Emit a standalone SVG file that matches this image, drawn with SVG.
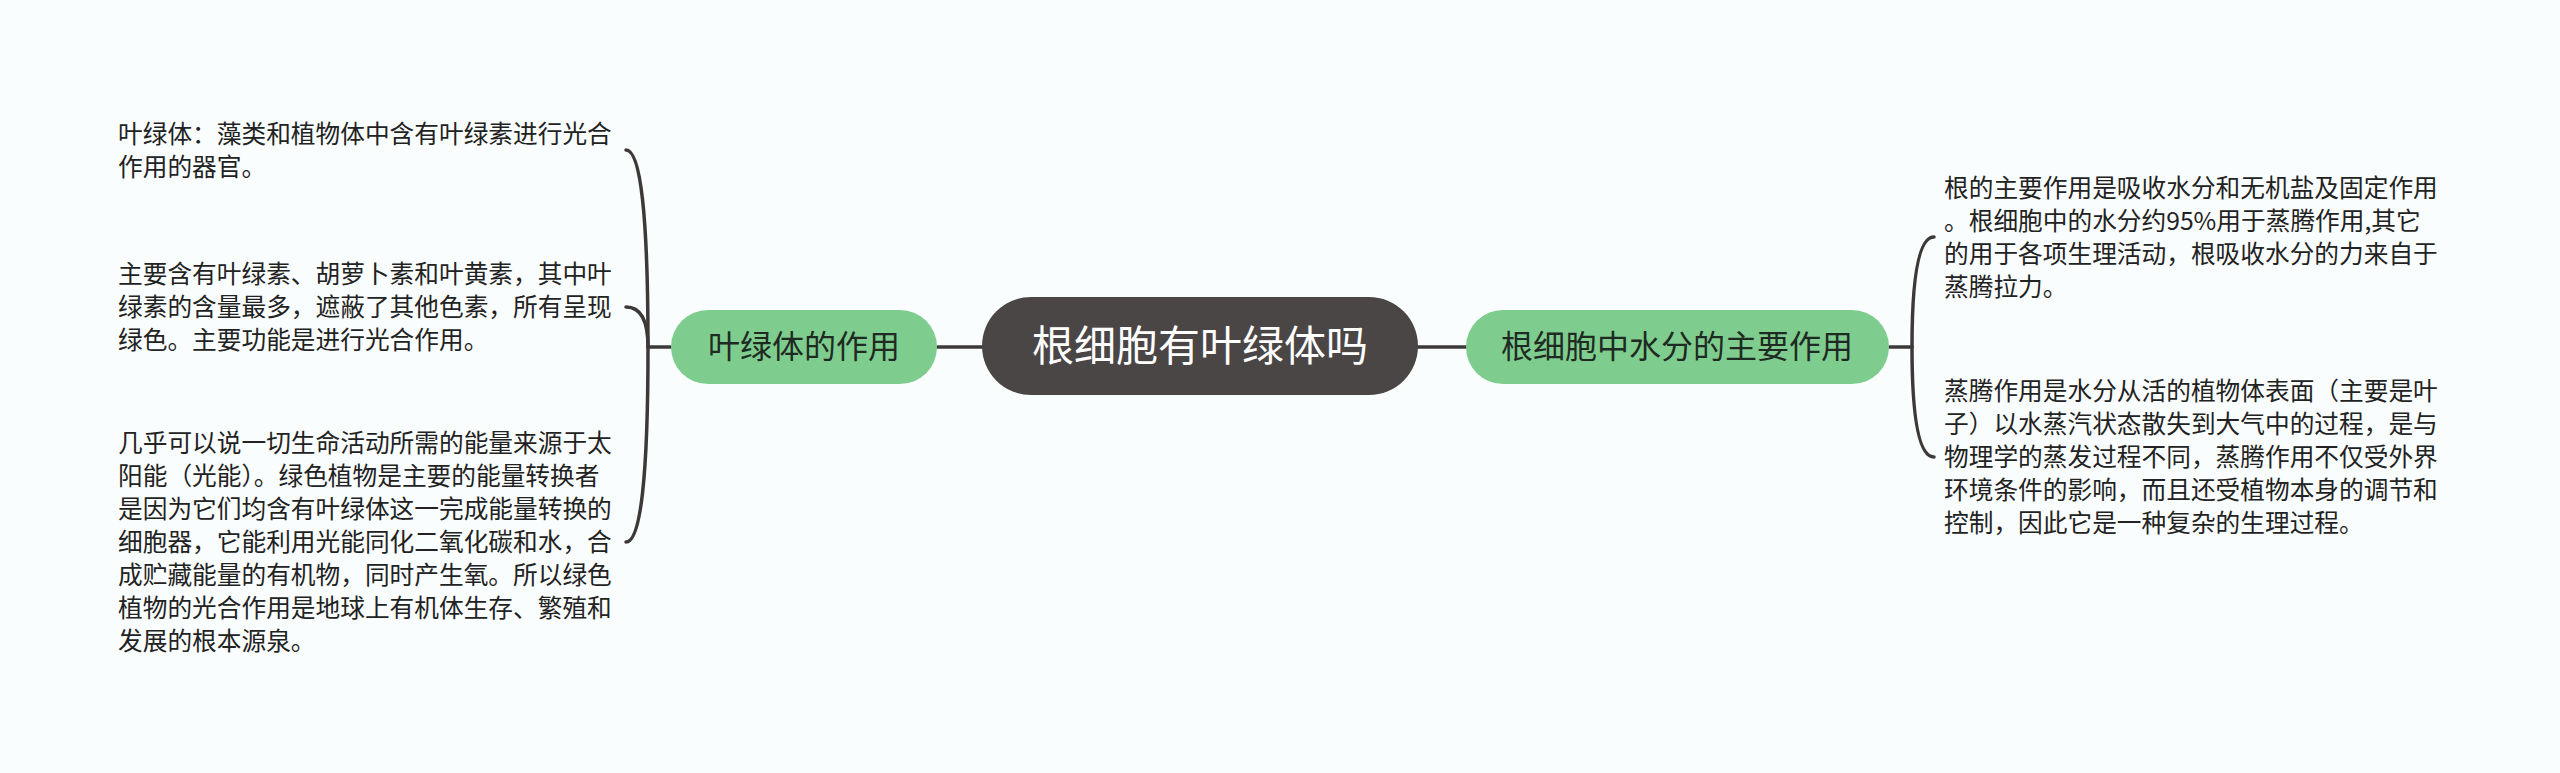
<svg xmlns="http://www.w3.org/2000/svg" width="2560" height="773" viewBox="0 0 2560 773">
<style>
.bg{fill:#fafdfd}
.conn{fill:none;stroke:#3d3939;stroke-width:3.5;stroke-linecap:round}
.root{fill:#4b4646}
.rootT{font-family:"Noto Sans CJK SC","Noto Sans",sans-serif;font-size:42px;fill:#ffffff;text-anchor:middle}
.sub{fill:#7ecd8f}
.subT{font-family:"Noto Sans CJK SC","Noto Sans",sans-serif;font-size:32px;fill:#1e2a22;text-anchor:middle}
.leaf{font-family:"Noto Sans CJK SC","Noto Sans",sans-serif;font-size:24.7px;fill:#222222}
</style>
<rect class="bg" x="0" y="0" width="2560" height="773"/>
<g id="connectors">
<path class="conn" d="M937,347 L982,347"/>
<path class="conn" d="M1418,347 L1466,347"/>
<path class="conn" d="M671,347 L648,347"/>
<path class="conn" d="M648,347 Q648,150 626,150"/>
<path class="conn" d="M648,347 Q648,307 626,307"/>
<path class="conn" d="M648,347 Q648,542 626,542"/>
<path class="conn" d="M1889,347 L1912,347"/>
<path class="conn" d="M1912,347 Q1912,237 1934,237"/>
<path class="conn" d="M1912,347 Q1912,457 1934,457"/>
</g>
<g id="root">
<rect class="root" x="982" y="297" width="436" height="98" rx="49"/>
<text class="rootT" x="1200" y="361">根细胞有叶绿体吗</text>
</g>
<g id="left-branch">
<rect class="sub" x="671" y="310" width="266" height="74" rx="37"/>
<text class="subT" x="804" y="358">叶绿体的作用</text>
</g>
<g id="right-branch">
<rect class="sub" x="1466" y="310" width="423" height="74" rx="37"/>
<text class="subT" x="1677" y="358">根细胞中水分的主要作用</text>
</g>
<g id="leaf-l1">
<text class="leaf" x="118" y="143">叶绿体：藻类和植物体中含有叶绿素进行光合</text>
<text class="leaf" x="118" y="176">作用的器官。</text>
</g>
<g id="leaf-l2">
<text class="leaf" x="118" y="283">主要含有叶绿素、胡萝卜素和叶黄素，其中叶</text>
<text class="leaf" x="118" y="316">绿素的含量最多，遮蔽了其他色素，所有呈现</text>
<text class="leaf" x="118" y="349">绿色。主要功能是进行光合作用。</text>
</g>
<g id="leaf-l3">
<text class="leaf" x="118" y="452">几乎可以说一切生命活动所需的能量来源于太</text>
<text class="leaf" x="118" y="485">阳能（光能）。绿色植物是主要的能量转换者</text>
<text class="leaf" x="118" y="518">是因为它们均含有叶绿体这一完成能量转换的</text>
<text class="leaf" x="118" y="551">细胞器，它能利用光能同化二氧化碳和水，合</text>
<text class="leaf" x="118" y="584">成贮藏能量的有机物，同时产生氧。所以绿色</text>
<text class="leaf" x="118" y="617">植物的光合作用是地球上有机体生存、繁殖和</text>
<text class="leaf" x="118" y="650">发展的根本源泉。</text>
</g>
<g id="leaf-r1">
<text class="leaf" x="1944" y="197">根的主要作用是吸收水分和无机盐及固定作用</text>
<text class="leaf" x="1944" y="230">。根细胞中的水分约95%用于蒸腾作用,其它</text>
<text class="leaf" x="1944" y="263">的用于各项生理活动，根吸收水分的力来自于</text>
<text class="leaf" x="1944" y="296">蒸腾拉力。</text>
</g>
<g id="leaf-r2">
<text class="leaf" x="1944" y="400">蒸腾作用是水分从活的植物体表面（主要是叶</text>
<text class="leaf" x="1944" y="433">子）以水蒸汽状态散失到大气中的过程，是与</text>
<text class="leaf" x="1944" y="466">物理学的蒸发过程不同，蒸腾作用不仅受外界</text>
<text class="leaf" x="1944" y="499">环境条件的影响，而且还受植物本身的调节和</text>
<text class="leaf" x="1944" y="532">控制，因此它是一种复杂的生理过程。</text>
</g>
</svg>
